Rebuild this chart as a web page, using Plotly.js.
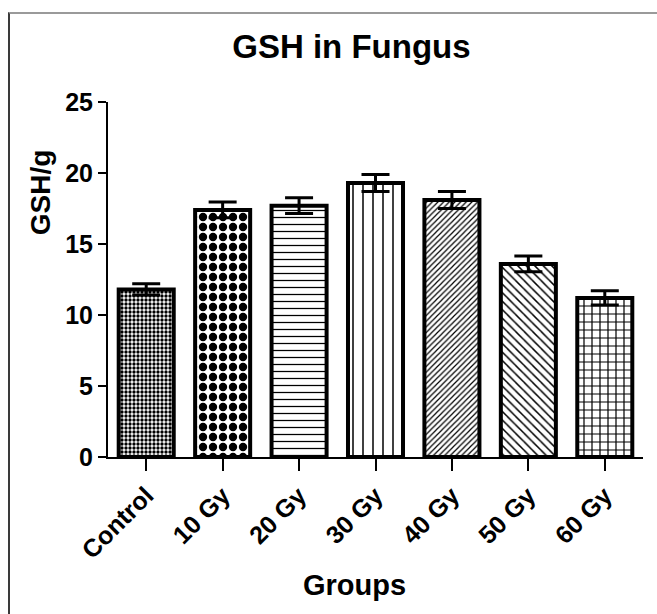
<!DOCTYPE html>
<html>
<head>
<meta charset="utf-8">
<script src="https://cdn.plot.ly/plotly-3.0.1.min.js"></script>
<style>
  html, body { margin: 0; padding: 0; background: #fff; }
  #wrap { position: relative; width: 657px; height: 614px; overflow: hidden; }
  #chart { width: 657px; height: 614px; }
  #frame { position: absolute; left: 8px; top: 12px; width: 700px; height: 700px;
           border-top: 2px solid #9a9a9a; border-left: 2px solid #3a3a3a; pointer-events: none; }
</style>
</head>
<body>
<div id="wrap">
  <div id="chart"></div>
  <div id="frame"></div>
</div>
<script>
const categories = ["Control", "10 Gy", "20 Gy", "30 Gy", "40 Gy", "50 Gy", "60 Gy"];
const gshValues  = [11.8, 17.4, 17.7, 19.3, 18.1, 13.6, 11.2];
const gshErrors  = [0.4, 0.55, 0.55, 0.6, 0.6, 0.55, 0.5];
const yTicks     = [0, 5, 10, 15, 20, 25];

const patternShapes = [".", ".", "-", "|", "/", "\\", "+"];
const patternSizes  = [4, 10, 7, 10, 4, 6, 8];
const patternSolid  = [0.55, 0.55, 0.18, 0.15, 0.3, 0.25, 0.28];

const FONT = "Liberation Sans, Arial, Helvetica, sans-serif";

const trace = {
  type: "bar",
  x: categories,
  y: gshValues,
  width: 0.72,
  marker: {
    color: "#ffffff",
    line: { color: "#000000", width: 4 },
    pattern: {
      shape: patternShapes,
      size: patternSizes,
      solidity: patternSolid,
      fgcolor: "#000000",
      fgopacity: 1,
      bgcolor: "#ffffff",
      fillmode: "overlay"
    }
  },
  error_y: {
    type: "data",
    array: gshErrors,
    visible: true,
    color: "#000000",
    thickness: 3,
    width: 14
  },
  hoverinfo: "x+y"
};

const layout = {
  width: 657,
  height: 614,
  margin: { l: 108, r: 14, t: 102, b: 157, pad: 0 },
  paper_bgcolor: "#ffffff",
  plot_bgcolor: "#ffffff",
  showlegend: false,
  font: { family: FONT, color: "#000000" },
  title: {
    text: "<b>GSH in Fungus</b>",
    font: { family: FONT, size: 33, color: "#000000" },
    x: 0.455, xref: "paper", xanchor: "center",
    y: 0.925, yref: "container", yanchor: "middle"
  },
  xaxis: {
    type: "category",
    range: [-0.5, 6.5],
    showline: true, linecolor: "#000000", linewidth: 2,
    ticks: "outside", ticklen: 12, tickwidth: 2, tickcolor: "#000000",
    tickangle: -45,
    tickfont: { family: FONT, size: 25, color: "#000000", weight: "bold" },
    showgrid: false, zeroline: false
  },
  yaxis: {
    range: [0, 25],
    tickvals: yTicks,
    ticktext: yTicks.map(String),
    showline: true, linecolor: "#000000", linewidth: 2,
    ticks: "outside", ticklen: 8, tickwidth: 2, tickcolor: "#000000",
    tickfont: { family: FONT, size: 25, color: "#000000", weight: "bold" },
    showgrid: false, zeroline: false
  },
  annotations: [{
    text: "<b>Groups</b>",
    xref: "paper", yref: "paper",
    x: 0.46, y: -0.36,
    xanchor: "center", yanchor: "middle",
    showarrow: false,
    font: { family: FONT, size: 29, color: "#000000" }
  }, {
    text: "<b>GSH/g</b>",
    xref: "paper", yref: "paper",
    x: -0.127, y: 0.746,
    xanchor: "center", yanchor: "middle",
    textangle: -90,
    showarrow: false,
    font: { family: FONT, size: 28, color: "#000000" }
  }]
};

Plotly.newPlot("chart", [trace], layout, { displayModeBar: false, staticPlot: true });
</script>
</body>
</html>
